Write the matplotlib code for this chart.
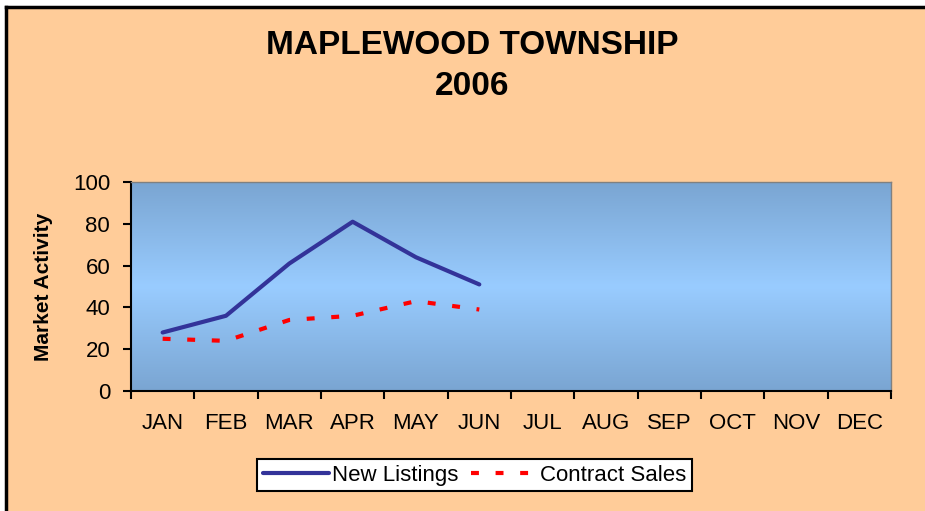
import matplotlib.pyplot as plt
import numpy as np
from matplotlib.colors import LinearSegmentedColormap
from matplotlib.lines import Line2D
from matplotlib.patches import Rectangle

plt.rcParams["font.family"] = ["Liberation Sans", "DejaVu Sans"]

# Data.
months = ["JAN", "FEB", "MAR", "APR", "MAY", "JUN",
          "JUL", "AUG", "SEP", "OCT", "NOV", "DEC"]
new_listings = [28, 36, 61, 81, 64, 51]
contract_sales = [25, 24, 34, 36, 43, 39]

y_ticks = [0, 20, 40, 60, 80, 100]

fig = plt.figure(figsize=(9.25, 5.11), dpi=100)
fig.patch.set_facecolor("white")

# Peach panel; only the top and left frame edges show in the image.
left_edge, top_edge = 0.006, 0.987
fig.patches.append(Rectangle((left_edge, 0), 1 - left_edge, top_edge,
    transform=fig.transFigure, facecolor="#ffcc99", edgecolor="none",
    zorder=-10))
fig.lines.append(Line2D([left_edge, 1], [top_edge, top_edge],
    transform=fig.transFigure, color="black", linewidth=2.5))
fig.lines.append(Line2D([left_edge, left_edge], [0, top_edge],
    transform=fig.transFigure, color="black", linewidth=2.5))

fig.text(0.51, 0.91, "MAPLEWOOD TOWNSHIP", ha="center", va="center",
    fontsize=24, fontweight="bold")
fig.text(0.51, 0.83, "2006", ha="center", va="center",
    fontsize=24, fontweight="bold")

ax = fig.add_axes([0.1416, 0.2348, 0.8216, 0.409])

# Vertical gradient fill of the plot area.
grad = LinearSegmentedColormap.from_list(
    "plotarea", ["#7aa5d2", "#99ccff", "#7aa5d2"])
ax.imshow(np.linspace(0, 1, 256).reshape(-1, 1), cmap=grad, aspect="auto",
    extent=(0.5, 12.5, 0, 100), origin="upper", zorder=0)

x = np.arange(1, len(new_listings) + 1)
ax.plot(x, new_listings, color="#333399", linewidth=3,
    solid_capstyle="round", label="New Listings", zorder=3)
ax.plot(x, contract_sales, color="#ff0000", linewidth=3,
    linestyle=(0, (1.9, 4)), label="Contract Sales", zorder=3)

ax.set_xlim(0.5, 12.5)
ax.set_ylim(0, 100)

ax.set_xticks(np.arange(1, 13))
ax.set_xticklabels(months)
ax.set_xticks(np.arange(0.5, 13, 1), minor=True)
ax.tick_params(axis="x", which="major", length=0, pad=16, labelsize=16)
ax.tick_params(axis="x", which="minor", length=6, width=1.5, direction="out")

ax.set_yticks(y_ticks)
ax.tick_params(axis="y", length=6, width=1.5, direction="out", labelsize=16,
    pad=9)

ax.set_ylabel("Market Activity", fontsize=15, fontweight="bold", labelpad=14)

ax.spines[["left", "bottom"]].set_linewidth(1.5)
ax.spines[["left", "bottom"]].set_color("black")
ax.spines[["top", "right"]].set_linewidth(1)
ax.spines[["top", "right"]].set_color("#808080")

leg = fig.legend(loc="center", bbox_to_anchor=(0.513, 0.07), ncol=2,
    fontsize=16, frameon=True, fancybox=False, framealpha=1, handlelength=3,
    handletextpad=0.1, columnspacing=0.6, borderpad=0.25)
leg.get_frame().set_edgecolor("black")
leg.get_frame().set_linewidth(1.5)
leg.get_frame().set_facecolor("white")

fig.savefig("out.png", dpi=100, facecolor=fig.get_facecolor())
